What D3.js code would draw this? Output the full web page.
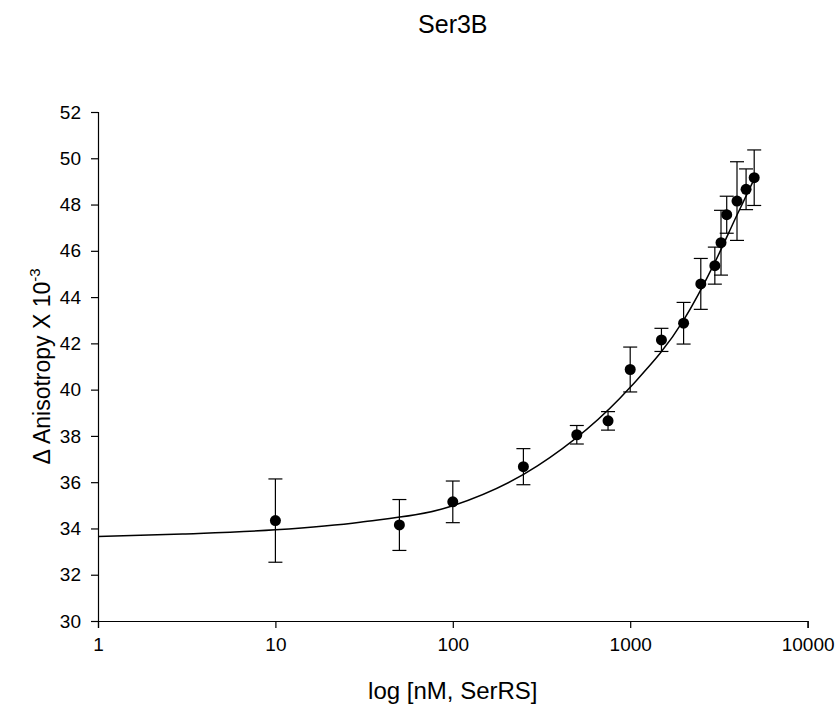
<!DOCTYPE html>
<html>
<head>
<meta charset="utf-8">
<script src="https://cdn.jsdelivr.net/npm/d3@7/dist/d3.min.js"></script>
<style>
  html, body { margin: 0; padding: 0; background: #fff; }
  svg { display: block; font-family: "Liberation Sans", Arial, sans-serif; }
</style>
</head>
<body>
<svg id="chart" width="838" height="713"></svg>
<script>
// SerRS titration of Ser3B: mean anisotropy change with SD
const concentrations = [10, 50, 100, 250, 500, 750, 1000, 1500, 2000, 2500, 3000, 3250, 3500, 4000, 4500, 5000];
const anisotropy     = [34.34, 34.15, 35.15, 36.67, 38.05, 38.65, 40.87, 42.15, 42.87, 44.57, 45.36, 46.35, 47.56, 48.15, 48.66, 49.16];
const errors         = [1.8, 1.1, 0.9, 0.78, 0.4, 0.4, 0.97, 0.5, 0.9, 1.1, 0.8, 1.4, 0.8, 1.7, 0.88, 1.2];

// fitted binding curve
const fitX = [1, 3, 10, 30, 100, 300, 1000, 2000, 3000, 4000, 5000];
const fitY = [33.65, 33.76, 33.94, 34.27, 34.98, 36.7, 40.1, 43.0, 45.5, 47.55, 49.1];

const xTicks = [1, 10, 100, 1000, 10000];
const yTicks = [30, 32, 34, 36, 38, 40, 42, 44, 46, 48, 50, 52];

const margin = { left: 98, top: 112, right: 30.4, bottom: 92 };
const width = 838 - margin.left - margin.right;
const height = 713 - margin.top - margin.bottom;

const svg = d3.select("#chart");
const g = svg.append("g").attr("transform", `translate(${margin.left},${margin.top})`);

const x = d3.scaleLog().domain([1, 10000]).range([0, width]);
const y = d3.scaleLinear().domain([30, 52]).range([height, 0]);

// axes
const xAxis = d3.axisBottom(x).tickValues(xTicks).tickFormat(d3.format("d")).tickSizeOuter(0).tickSize(7).tickPadding(10);
const yAxis = d3.axisLeft(y).tickValues(yTicks).tickSizeOuter(0).tickSize(7).tickPadding(10);

const gx = g.append("g").attr("transform", `translate(0,${height})`).call(xAxis);
const gy = g.append("g").call(yAxis);
[gx, gy].forEach(a => {
  a.selectAll("path, line").attr("stroke", "#000").attr("stroke-width", 1.2);
  a.selectAll("text").attr("fill", "#000").style("font-size", "19px");
});

// fitted curve
const line = d3.line()
  .x((d, i) => x(fitX[i]))
  .y(d => y(d))
  .curve(d3.curveMonotoneX);
g.append("path")
  .datum(fitY)
  .attr("d", line)
  .attr("fill", "none")
  .attr("stroke", "#000")
  .attr("stroke-width", 1.5);

// error bars
const capHalf = 7;
const bars = g.append("g").selectAll("g").data(concentrations).join("g");
bars.append("line")
  .attr("x1", d => x(d)).attr("x2", d => x(d))
  .attr("y1", (d, i) => y(anisotropy[i] - errors[i]))
  .attr("y2", (d, i) => y(anisotropy[i] + errors[i]))
  .attr("stroke", "#000").attr("stroke-width", 1.2);
[-1, 1].forEach(s => {
  bars.append("line")
    .attr("x1", d => x(d) - capHalf).attr("x2", d => x(d) + capHalf)
    .attr("y1", (d, i) => y(anisotropy[i] + s * errors[i]))
    .attr("y2", (d, i) => y(anisotropy[i] + s * errors[i]))
    .attr("stroke", "#000").attr("stroke-width", 1.2);
});

// data points
g.append("g").selectAll("circle").data(concentrations).join("circle")
  .attr("cx", d => x(d))
  .attr("cy", (d, i) => y(anisotropy[i]))
  .attr("r", 5.5)
  .attr("fill", "#000");

// title
svg.append("text")
  .attr("x", margin.left + width / 2).attr("y", 33)
  .attr("text-anchor", "middle")
  .style("font-size", "25px")
  .attr("fill", "#000")
  .text("Ser3B");

// x axis title
svg.append("text")
  .attr("x", margin.left + width / 2).attr("y", 699)
  .attr("text-anchor", "middle")
  .style("font-size", "24px")
  .attr("fill", "#000")
  .text("log [nM, SerRS]");

// y axis title with superscript exponent
const yt = svg.append("text")
  .attr("transform", `translate(50,${margin.top + height / 2}) rotate(-90)`)
  .attr("text-anchor", "middle")
  .style("font-size", "23px")
  .attr("fill", "#000");
yt.append("tspan").text("Δ Anisotropy X 10");
yt.append("tspan").attr("dy", -10).style("font-size", "15px").text("-3");
</script>
</body>
</html>
